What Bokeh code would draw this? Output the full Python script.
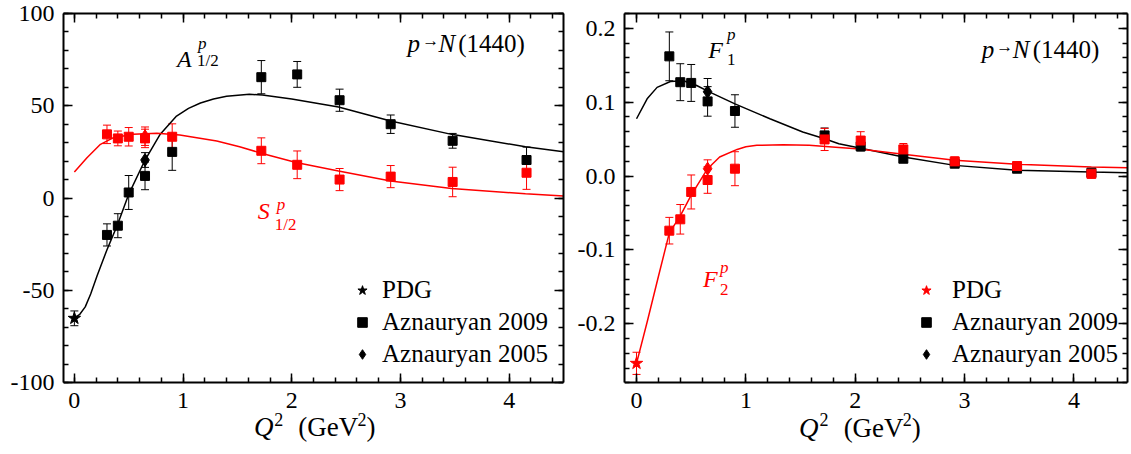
from bokeh.plotting import figure
from bokeh.models import (ColumnDataSource, Whisker, TeeHead, Label, Legend, LegendItem,
                          LinearAxis, SingleIntervalTicker, PrintfTickFormatter, Range1d)
from bokeh.layouts import row
from bokeh.embed import file_html
from bokeh.resources import INLINE

SERIF = "Liberation Serif"
RED = "#ff0000"
BLACK = "#000000"

# ---------------- helicity amplitudes (left panel) ----------------
q_2009 = [0.30, 0.40, 0.50, 0.65, 0.90, 1.72, 2.05, 2.44, 2.91, 3.48, 4.16]
a12_2009 = [-20.0, -15.0, 3.0, 12.0, 25.0, 65.5, 67.0, 53.0, 40.0, 31.0, 20.6]
a12_2009_err = [6.0, 6.5, 9.2, 7.5, 10.0, 9.0, 7.0, 6.0, 5.0, 4.0, 7.0]
s12_2009 = [34.5, 32.3, 33.2, 32.3, 33.2, 25.6, 18.0, 10.0, 11.6, 8.7, 13.7]
s12_2009_err = [5.0, 4.0, 5.0, 5.0, 7.0, 7.0, 7.5, 6.0, 6.0, 8.0, 9.0]

q_2005 = [0.65]
a12_2005 = [20.6]
a12_2005_err = [4.0]
s12_2005 = [33.5]
s12_2005_err = [5.0]

q_pdg = [0.0]
a12_pdg = [-65.2]
a12_pdg_err = [4.0]

a12_model_q = [0.0, 0.05, 0.10, 0.15, 0.21, 0.30, 0.40, 0.50, 0.65, 0.79, 0.94, 1.05, 1.16,
               1.28, 1.40, 1.61, 1.73, 2.00, 2.43, 2.91, 3.47, 4.15, 4.50]
a12_model = [-65.0, -63.0, -59.0, -52.0, -42.0, -28.0, -14.0, 2.0, 20.6, 34.6, 44.4, 48.6, 51.5,
             53.7, 55.1, 56.2, 55.8, 53.7, 49.3, 41.7, 34.5, 27.8, 25.1]
s12_model_q = [0.0, 0.116, 0.24, 0.36, 0.54, 0.76, 0.97, 1.31, 1.52, 1.72, 2.04, 2.43, 2.91,
               3.47, 4.15, 4.50]
s12_model = [14.1, 21.8, 29.1, 32.7, 34.5, 35.1, 34.1, 30.9, 27.8, 24.3, 19.2, 14.6, 9.2,
             5.2, 2.3, 1.1]

# ---------------- Dirac / Pauli form factors (right panel) ----------------
f1_2009 = [0.162, 0.127, 0.126, 0.101, 0.088, 0.055, 0.040, 0.0234, 0.0167, 0.0099, 0.0045]
f1_2009_err = [0.033, 0.025, 0.025, 0.020, 0.022, 0.010, 0.006, 0.005, 0.004, 0.004, 0.004]
f2_2009 = [-0.074, -0.0586, -0.0216, -0.0054, 0.0099, 0.0495, 0.048, 0.036, 0.0198, 0.0135, 0.003]
f2_2009_err = [0.018, 0.020, 0.023, 0.018, 0.023, 0.015, 0.012, 0.008, 0.006, 0.005, 0.006]

f1_2005 = [0.114]
f1_2005_err = [0.018]
f2_2005 = [0.0099]
f2_2005_err = [0.012]

f2_pdg = [-0.2536]
f2_pdg_err = [0.015]

f1_model_q = [0.0, 0.097, 0.188, 0.31, 0.43, 0.55, 0.67, 0.90, 1.22, 1.52, 1.72, 1.85, 2.04,
              2.44, 2.91, 3.48, 4.16, 4.49]
f1_model = [0.0775, 0.1045, 0.120, 0.128, 0.129, 0.1225, 0.1135, 0.0977, 0.0775, 0.0595,
            0.0504, 0.0437, 0.038, 0.0257, 0.0144, 0.0077, 0.0054, 0.0045]
f2_model_q = [0.0, 0.10, 0.20, 0.30, 0.40, 0.50, 0.65, 0.76, 0.92, 1.00, 1.10, 1.34, 1.58,
              1.82, 2.04, 2.44, 2.91, 3.48, 4.16, 4.49]
f2_model = [-0.2536, -0.196, -0.136, -0.077, -0.054, -0.026, 0.0099, 0.0257, 0.036, 0.0395,
            0.0415, 0.0423, 0.0415, 0.039, 0.0365, 0.0293, 0.0212, 0.0158, 0.0122, 0.0112]


def make_panel(width, border_left, border_right, border_top, x_rng, y_rng, y_bounds, y_step, y_fmt):
    # the frame runs to the bottom of the canvas; the axes are bounded to the data box
    p = figure(width=width, height=454, output_backend="svg", toolbar_location=None,
               x_range=Range1d(*x_rng), y_range=Range1d(*y_rng),
               min_border_left=border_left, min_border_right=border_right,
               min_border_top=border_top, min_border_bottom=0,
               x_axis_type=None, y_axis_type=None)
    p.outline_line_color = None
    p.background_fill_color = "white"
    p.border_fill_color = "white"
    xt = SingleIntervalTicker(interval=1, num_minor_ticks=5)
    yt = SingleIntervalTicker(interval=y_step, num_minor_ticks=5)
    for side, ticker, fmt, shown in [("below", xt, "%d", True), ("above", xt, "%d", False),
                                     ("left", yt, y_fmt, True), ("right", yt, y_fmt, False)]:
        ax = LinearAxis(ticker=ticker, formatter=PrintfTickFormatter(format=fmt))
        if side == "below":
            ax.fixed_location = y_bounds[0]
        if side in ("left", "right"):
            ax.bounds = y_bounds
        ax.axis_line_width = 2
        ax.axis_line_color = BLACK
        ax.major_tick_in = 9
        ax.major_tick_out = 0
        ax.minor_tick_in = 5
        ax.minor_tick_out = 0
        ax.major_tick_line_width = 1.5
        ax.minor_tick_line_width = 1.5
        ax.major_tick_line_color = BLACK
        ax.minor_tick_line_color = BLACK
        ax.major_label_text_font = SERIF
        if shown:
            ax.major_label_text_color = BLACK
            ax.major_label_text_font_size = "24px"
            ax.major_label_standoff = 10 if side == "below" else 9
        else:
            ax.major_label_text_color = None
            ax.major_label_text_font_size = "1px"
            ax.major_label_standoff = 0
        p.add_layout(ax, side)
    return p


def add_label(p, x, y, text, size, color=BLACK, italic=False, align="left", baseline="alphabetic"):
    p.add_layout(Label(x=x, y=y, text=text, text_font=SERIF, text_font_size=f"{size}px",
                       text_color=color, text_font_style="italic" if italic else "normal",
                       text_align=align, text_baseline=baseline))


def add_axis_title(p, xs, y_base, y_sup):
    # Q^2 (GeV^2) built from pieces: italic Q, raised 2s, upright unit text
    x_q, x_s1, x_unit, x_s2, x_close = xs
    add_label(p, x_q, y_base, "Q", 27, italic=True, align="right")
    add_label(p, x_s1, y_sup, "2", 18)
    add_label(p, x_unit, y_base, "(GeV", 27)
    add_label(p, x_s2, y_sup, "2", 18)
    add_label(p, x_close, y_base, ")", 27)


def add_errors(p, q, val, err, color):
    src = ColumnDataSource(dict(q=q,
                                upper=[v + e for v, e in zip(val, err)],
                                lower=[v - e for v, e in zip(val, err)]))
    w = Whisker(base="q", upper="upper", lower="lower", source=src, level="underlay",
                line_color=color, line_width=1,
                upper_head=TeeHead(size=8, line_color=color, line_width=1),
                lower_head=TeeHead(size=8, line_color=color, line_width=1))
    p.add_layout(w)


def add_legend(p, items, x, standoff):
    leg = Legend(items=[LegendItem(label=t, renderers=[r]) for t, r in items],
                 location=(x, 86), border_line_color=None, background_fill_alpha=0,
                 label_text_font=SERIF, label_text_font_size="25px", label_text_color=BLACK,
                 glyph_width=24, glyph_height=26, label_height=26, spacing=4,
                 padding=0, margin=0, label_standoff=standoff)
    p.add_layout(leg)


# ---------------- left panel: A1/2 and S1/2 ----------------
p1 = make_panel(570, 63, 7, 13, (-0.1, 4.5), (-139.0, 100), (-100, 100), 50, "%d")
p1.line(a12_model_q, a12_model, line_color=BLACK, line_width=1.5)
p1.line(s12_model_q, s12_model, line_color=RED, line_width=1.5)
add_errors(p1, q_2009, a12_2009, a12_2009_err, BLACK)
add_errors(p1, q_2009, s12_2009, s12_2009_err, RED)
add_errors(p1, q_2005, a12_2005, a12_2005_err, BLACK)
add_errors(p1, q_2005, s12_2005, s12_2005_err, RED)
add_errors(p1, q_pdg, a12_pdg, a12_pdg_err, BLACK)
r_sq1 = p1.scatter(q_2009, a12_2009, marker="square", size=9, color=BLACK)
p1.scatter(q_2009, s12_2009, marker="square", size=9, color=RED)
r_di1 = p1.scatter(q_2005, a12_2005, marker="diamond", size=13, color=BLACK)
p1.scatter(q_2005, s12_2005, marker="diamond", size=13, color=RED)
r_st1 = p1.scatter(q_pdg, a12_pdg, marker="star", size=13, color=BLACK)
add_legend(p1, [("PDG", r_st1), ("Aznauryan 2009", r_sq1), ("Aznauryan 2005", r_di1)], 287, 8)

add_label(p1, 0.945, 75.3, "A", 24, italic=True)
add_label(p1, 1.138, 83.5, "p", 17, italic=True)
add_label(p1, 1.128, 74.3, "1/2", 17)
add_label(p1, 1.688, -7.0, "S", 24, RED, italic=True)
add_label(p1, 1.862, -3.3, "p", 17, RED, italic=True)
add_label(p1, 1.844, -14.1, "1/2", 17, RED)
add_label(p1, 3.064, 83.5, "p", 25, italic=True)
add_label(p1, 3.200, 85.1, "\u2192", 17)
add_label(p1, 3.349, 83.5, "N", 25, italic=True)
add_label(p1, 3.532, 83.5, "(1440)", 25)
add_axis_title(p1, (1.831, 1.84, 2.060, 2.604, 2.687), -124.1, -120.0)

# ---------------- right panel: F1 and F2 ----------------
p2 = make_panel(561, 54, 4, 11, (-0.11, 4.49), (-0.377, 0.22), (-0.28, 0.22), 0.1, "%.1f")
p2.line(f1_model_q, f1_model, line_color=BLACK, line_width=1.5)
p2.line(f2_model_q, f2_model, line_color=RED, line_width=1.5)
add_errors(p2, q_2009, f1_2009, f1_2009_err, BLACK)
add_errors(p2, q_2009, f2_2009, f2_2009_err, RED)
add_errors(p2, q_2005, f1_2005, f1_2005_err, BLACK)
add_errors(p2, q_2005, f2_2005, f2_2005_err, RED)
add_errors(p2, q_pdg, f2_pdg, f2_pdg_err, RED)
r_sq2 = p2.scatter(q_2009, f1_2009, marker="square", size=9, color=BLACK)
p2.scatter(q_2009, f2_2009, marker="square", size=9, color=RED)
r_di2 = p2.scatter(q_2005, f1_2005, marker="diamond", size=13, color=BLACK)
p2.scatter(q_2005, f2_2005, marker="diamond", size=13, color=RED)
r_st2 = p2.scatter(q_pdg, f2_pdg, marker="star", size=13, color=RED)
add_legend(p2, [("PDG", r_st2), ("Aznauryan 2009", r_sq2), ("Aznauryan 2005", r_di2)], 290, 14)

add_label(p2, 0.655, 0.170, "F", 24, italic=True)
add_label(p2, 0.827, 0.192, "p", 17, italic=True)
add_label(p2, 0.827, 0.158, "1", 17)
add_label(p2, 0.609, -0.139, "F", 24, RED, italic=True)
add_label(p2, 0.764, -0.124, "p", 17, RED, italic=True)
add_label(p2, 0.764, -0.154, "2", 17, RED)
add_label(p2, 3.157, 0.1714, "p", 25, italic=True)
add_label(p2, 3.290, 0.1750, "\u2192", 17)
add_label(p2, 3.440, 0.1714, "N", 25, italic=True)
add_label(p2, 3.623, 0.1714, "(1440)", 25)
add_axis_title(p2, (1.665, 1.674, 1.894, 2.434, 2.516), -0.3407, -0.3299)

layout = row(p1, p2)
open("out.html", "w").write(file_html(layout, INLINE))
